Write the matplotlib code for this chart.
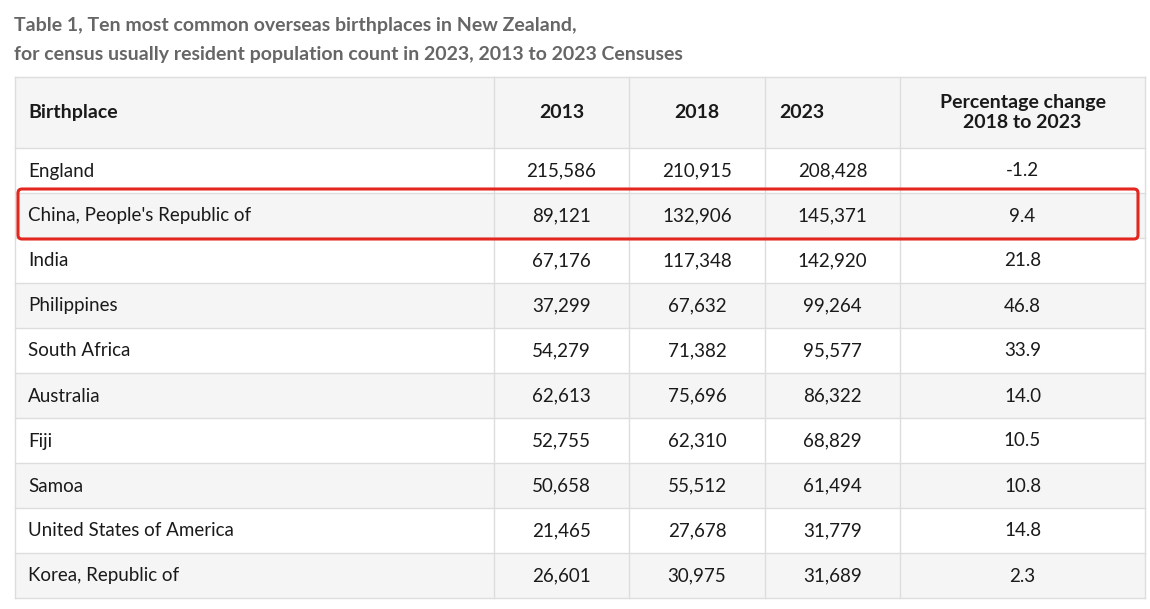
import matplotlib.pyplot as plt
from matplotlib.patches import Rectangle, FancyBboxPatch

# table data
birthplaces = ['England', "China, People's Republic of", 'India', 'Philippines',
               'South Africa', 'Australia', 'Fiji', 'Samoa',
               'United States of America', 'Korea, Republic of']
pop_2013 = [215586, 89121, 67176, 37299, 54279, 62613, 52755, 50658, 21465, 26601]
pop_2018 = [210915, 132906, 117348, 67632, 71382, 75696, 62310, 55512, 27678, 30975]
pop_2023 = [208428, 145371, 142920, 99264, 95577, 86322, 68829, 61494, 31779, 31689]
pct_change = [-1.2, 9.4, 21.8, 46.8, 33.9, 14.0, 10.5, 10.8, 14.8, 2.3]
headers = ['Birthplace', '2013', '2018', '2023', 'Percentage change\n2018 to 2023']
highlight = "China, People's Republic of"

title = ('Table 1, Ten most common overseas birthplaces in New Zealand,\n'
         'for census usually resident population count in 2023, 2013 to 2023 Censuses')

plt.rcParams['font.family'] = ['Lato', 'DejaVu Sans']

W, H = 1150, 609
fig = plt.figure(figsize=(W / 100, H / 100), dpi=100)
ax = fig.add_axes([0, 0, 1, 1])
ax.set_xlim(0, W)
ax.set_ylim(H, 0)
ax.axis('off')

col_edges = [15, 494, 629, 765, 900, 1145]
top, head_h, row_h = 77, 71, 45
line_col = '#dddddd'
gray_bg = '#f5f5f5'
txt_col = '#1a1a1a'
fs = 13.5
fs_head = 14

# title
ax.text(14, 40, title, fontsize=14, fontweight='bold', color='#666666',
        va='center', ha='left', linespacing=1.8)

# header
ax.add_patch(Rectangle((col_edges[0], top), col_edges[-1] - col_edges[0], head_h,
                       facecolor=gray_bg, edgecolor='none'))
hy = top + head_h / 2
for i, h in enumerate(headers):
    if i == 0:
        ax.text(col_edges[0] + 13, hy, h, fontsize=fs_head, fontweight='bold', ha='left', va='center', color=txt_col)
    elif i == 3:
        ax.text(col_edges[3] + 14, hy, h, fontsize=fs_head, fontweight='bold', ha='left', va='center', color=txt_col)
    else:
        cx = (col_edges[i] + col_edges[i + 1]) / 2
        ax.text(cx, hy, h, fontsize=fs_head, fontweight='bold', ha='center', va='center',
                color=txt_col, linespacing=1.25)

# body rows
for r, name in enumerate(birthplaces):
    y0 = top + head_h + r * row_h
    if r % 2 == 1:
        ax.add_patch(Rectangle((col_edges[0], y0), col_edges[-1] - col_edges[0], row_h,
                               facecolor=gray_bg, edgecolor='none'))
    yc = y0 + row_h / 2 + 0.5
    ax.text(col_edges[0] + 13, yc, name, fontsize=fs, ha='left', va='center', color=txt_col)
    vals = [f'{pop_2013[r]:,}', f'{pop_2018[r]:,}', f'{pop_2023[r]:,}', f'{pct_change[r]:.1f}']
    for c, v in enumerate(vals, start=1):
        cx = (col_edges[c] + col_edges[c + 1]) / 2
        ax.text(cx, yc, v, fontsize=fs, ha='center', va='center', color=txt_col)

# grid lines
bottom = top + head_h + len(birthplaces) * row_h
for x in col_edges:
    ax.plot([x, x], [top, bottom], color=line_col, lw=1)
ax.plot([col_edges[0], col_edges[-1]], [top, top], color=line_col, lw=1)
for r in range(len(birthplaces) + 1):
    y = top + head_h + r * row_h
    ax.plot([col_edges[0], col_edges[-1]], [y, y], color=line_col, lw=1)

# red highlight box
hr = birthplaces.index(highlight)
hy0 = top + head_h + hr * row_h
ax.add_patch(FancyBboxPatch((18, hy0 - 4), 1120, row_h + 5,
                            boxstyle='round,pad=0,rounding_size=4',
                            facecolor='none', edgecolor='#e3261f', lw=2.2, zorder=5))

fig.savefig('out.png', dpi=100)
